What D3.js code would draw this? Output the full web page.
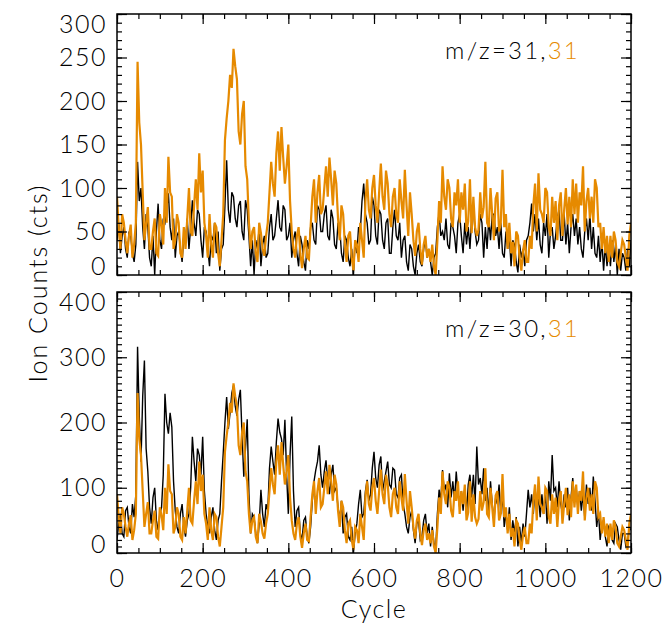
<!DOCTYPE html>
<html>
<head>
<meta charset="utf-8">
<script src="https://cdn.jsdelivr.net/npm/d3@7"></script>
<style>
    body { margin: 0; background: #fff; }
    svg { display: block; }
    text { font-family: Lato, 'DejaVu Sans', sans-serif; font-weight: 300; }
</style>
</head>
<body>
<svg id="chart" width="666" height="631"></svg>
<script>
// one sample every 4 cycles, 0..1200
var cycles = d3.range(0, 1201, 4);

// m/z 31 (orange, same trace in both panels)
var orange31 = [
    90, 55, 30, 70, 60, 40, 25, 45, 58, 20, 35, 60, 245, 175, 150, 95, 40, 60, 78, 30,
    30, 50, 65, 25, 22, 70, 58, 35, 100, 60, 136, 95, 90, 30, 40, 70, 60, 25, 20, 55,
    30, 65, 100, 50, 45, 80, 110, 75, 140, 95, 120, 60, 45, 20, 70, 35, 20, 60, 55, 25,
    10, 40, 70, 155, 180, 200, 230, 215, 260, 240, 225, 165, 150, 185, 200, 125, 110, 60, 30, 50,
    55, 25, 15, 60, 48, 30, 22, 45, 60, 95, 130, 105, 90, 140, 165, 120, 170, 135, 105, 125,
    150, 85, 50, 30, 20, 45, 55, 25, 8, 30, 45, 20, 18, 55, 90, 110, 60, 95, 115, 70,
    75, 100, 125, 90, 135, 110, 80, 120, 105, 65, 40, 80, 70, 35, 15, 45, 50, 20, 5, 40,
    35, 15, 60, 40, 20, 85, 110, 75, 65, 100, 115, 80, 60, 95, 128, 90, 75, 120, 105, 70,
    55, 90, 100, 70, 60, 110, 85, 65, 121, 80, 45, 95, 70, 40, 22, 50, 60, 30, 12, 35,
    45, 20, 30, 15, 35, 10, 0, 40, 85, 60, 125, 90, 75, 110, 100, 65, 55, 95, 80, 110,
    60, 95, 75, 105, 50, 62, 110, 48, 90, 55, 45, 52, 95, 65, 78, 130, 60, 55, 100, 70,
    40, 88, 95, 50, 60, 121, 55, 70, 30, 60, 25, 38, 10, 50, 45, 20, 5, 28, 40, 15,
    15, 45, 30, 80, 105, 50, 117, 75, 70, 60, 100, 95, 55, 45, 90, 60, 85, 40, 80, 95,
    45, 75, 100, 58, 90, 55, 110, 70, 105, 60, 95, 80, 125, 50, 85, 100, 65, 90, 60, 110,
    100, 55, 60, 30, 55, 25, 45, 15, 45, 20, 50, 40, 15, 10, 25, 40, 35, 20, 5, 45,
    60
];

// m/z 31 (black, top panel)
var black31 = [
    40, 60, 25, 45, 55, 30, 20, 50, 45, 25, 15, 35, 130, 85, 100, 55, 30, 70, 55, 20,
    10, 45, 0, 50, 82, 40, 30, 65, 60, 75, 94, 55, 40, 65, 20, 45, 50, 30, 15, 45,
    40, 65, 30, 55, 86, 60, 45, 75, 70, 40, 20, 55, 50, 30, 10, 45, 40, 60, 25, 50,
    5, 30, 35, 80, 132, 75, 60, 95, 90, 65, 55, 80, 85, 50, 40, 86, 75, 45, 10, 40,
    0, 40, 30, 55, 10, 35, 45, 20, 25, 55, 70, 40, 45, 65, 86, 55, 50, 80, 75, 40,
    45, 60, 20, 40, 50, 25, 10, 45, 35, 15, 5, 40, 30, 55, 60, 40, 35, 80, 75, 50,
    50, 70, 80, 45, 40, 75, 65, 35, 30, 60, 55, 25, 15, 45, 40, 20, 10, 30, 0, 40,
    25, 55, 50, 85, 105, 70, 60, 35, 40, 90, 80, 45, 35, 75, 70, 40, 30, 60, 65, 25,
    25, 55, 75, 45, 40, 60, 20, 40, 45, 15, 5, 35, 30, 10, 0, 25, 35, 15, 10, 30,
    40, 20, 30, 15, 0, 20, 25, 55, 71, 45, 50, 40, 65, 35, 30, 60, 55, 45, 25, 60,
    70, 45, 25, 60, 35, 55, 30, 65, 79, 50, 35, 40, 70, 60, 20, 55, 30, 65, 40, 70,
    70, 45, 55, 30, 60, 25, 20, 50, 30, 45, 10, 40, 35, 15, 3, 35, 20, 30, 10, 40,
    45, 60, 82, 50, 70, 40, 65, 35, 25, 60, 45, 70, 20, 50, 55, 30, 45, 65, 75, 40,
    40, 70, 35, 60, 25, 55, 70, 45, 65, 35, 55, 30, 20, 50, 65, 40, 70, 30, 55, 25,
    20, 45, 15, 40, 5, 35, 10, 30, 10, 40, 15, 35, 0, 30, 5, 25, 20, 5, 30, 10,
    40
];

// m/z 30 (black, bottom panel)
var black30 = [
    20, 45, 60, 30, 25, 65, 70, 40, 30, 75, 55, 90, 316, 210, 140, 240, 295, 160, 125, 70,
    45, 85, 100, 50, 35, 60, 70, 120, 244, 200, 183, 215, 193, 110, 65, 40, 30, 60, 75, 40,
    25, 50, 60, 100, 178, 140, 110, 160, 150, 120, 178, 95, 60, 40, 30, 55, 70, 35, 20, 50,
    60, 110, 153, 200, 239, 190, 215, 245, 257, 225, 210, 235, 250, 180, 117, 160, 205, 90, 30, 60,
    55, 30, 15, 45, 97, 60, 40, 75, 65, 130, 163, 140, 120, 170, 206, 185, 175, 150, 204, 120,
    60, 150, 209, 95, 40, 65, 70, 30, 20, 50, 55, 25, 15, 40, 80, 110, 127, 140, 165, 120,
    100, 125, 142, 110, 90, 120, 135, 95, 100, 70, 50, 80, 30, 55, 60, 25, 20, 40, 0, 30,
    45, 75, 97, 55, 60, 95, 112, 80, 90, 130, 155, 115, 100, 135, 148, 95, 110, 125, 140, 105,
    100, 130, 127, 90, 85, 115, 120, 75, 60, 40, 30, 55, 65, 35, 15, 45, 50, 20, 25, 50,
    60, 30, 45, 10, 40, 15, 5, 60, 97, 80, 127, 95, 105, 70, 122, 85, 110, 80, 125, 90,
    70, 95, 65, 100, 60, 105, 120, 85, 120, 75, 163, 105, 115, 90, 130, 80, 100, 60, 110, 75,
    50, 85, 75, 105, 60, 90, 40, 60, 35, 70, 20, 50, 30, 55, 10, 40, 15, 45, 25, 60,
    97, 70, 90, 60, 100, 65, 85, 55, 90, 60, 95, 45, 110, 80, 150, 95, 100, 70, 110, 75,
    60, 90, 70, 100, 50, 85, 115, 80, 100, 70, 95, 65, 90, 55, 105, 75, 100, 65, 117, 80,
    40, 65, 20, 45, 50, 25, 10, 40, 35, 20, 15, 45, 40, 20, 5, 30, 30, 10, 15, 40,
    35
];

var xTicks = [0, 200, 400, 600, 800, 1000, 1200];
var topTicks = [0, 50, 100, 150, 200, 250, 300];
var bottomTicks = [0, 100, 200, 300, 400];

var ORANGE = '#e68a00';
var FONT = "Lato, 'DejaVu Sans', sans-serif";
var svg = d3.select('#chart');

var x = d3.scaleLinear().domain([0, 1200]).range([117, 631]);
var xMinor = d3.range(0, 1201, 50);

var panels = [
    { top: 14, bottom: 275, max: 300, ticks: topTicks, black: black31, name: '31', labels: false },
    { top: 292, bottom: 553, max: 400, ticks: bottomTicks, black: black30, name: '30', labels: true }
];

panels.forEach(function (p, i) {
    draw_panel(p, i);
});

function draw_panel(p, i) {
    var y = d3.scaleLinear().domain([0, p.max]).range([p.bottom, p.top]);
    var g = svg.append('g');

    g.append('clipPath').attr('id', 'clip' + i)
        .append('rect')
        .attr('x', x(0)).attr('y', p.top)
        .attr('width', x(1200) - x(0)).attr('height', p.bottom - p.top);

    var line = d3.line()
        .x(function (d) { return x(d[0]); })
        .y(function (d) { return y(d[1]); });

    var lines = g.append('g').attr('clip-path', 'url(#clip' + i + ')');
    lines.append('path')
        .attr('d', line(d3.zip(cycles, p.black)))
        .attr('fill', 'none').attr('stroke', '#000').attr('stroke-width', 1.4);
    lines.append('path')
        .attr('d', line(d3.zip(cycles, orange31)))
        .attr('fill', 'none').attr('stroke', ORANGE).attr('stroke-width', 2.2);

    var yMinor = d3.range(0, p.max + 1, 10);

    // left: major ticks with labels, then minor ticks
    var left = g.append('g').attr('transform', 'translate(' + x(0) + ',0)')
        .call(d3.axisLeft(y).tickValues(p.ticks).tickSize(-10).tickPadding(10));
    // keep end labels inside the frame
    left.selectAll('.tick text')
        .attr('y', function (d) {
            var ty = y(d);
            var c = Math.max(p.top + 10, Math.min(p.bottom - 9, ty));
            return c - ty;
        });
    g.append('g').attr('transform', 'translate(' + x(0) + ',0)')
        .call(d3.axisLeft(y).tickValues(yMinor).tickSize(-5).tickFormat(''));

    // right side mirrors the left ticks
    g.append('g').attr('transform', 'translate(' + x(1200) + ',0)')
        .call(d3.axisRight(y).tickValues(p.ticks).tickSize(-10).tickFormat(''));
    g.append('g').attr('transform', 'translate(' + x(1200) + ',0)')
        .call(d3.axisRight(y).tickValues(yMinor).tickSize(-5).tickFormat(''));

    // top and bottom cycle ticks
    g.append('g').attr('transform', 'translate(0,' + p.top + ')')
        .call(d3.axisTop(x).tickValues(xTicks).tickSize(-10).tickFormat(''));
    g.append('g').attr('transform', 'translate(0,' + p.top + ')')
        .call(d3.axisTop(x).tickValues(xMinor).tickSize(-5).tickFormat(''));
    var bottom = g.append('g').attr('transform', 'translate(0,' + p.bottom + ')')
        .call(d3.axisBottom(x).tickValues(xTicks).tickSize(-10).tickPadding(16)
            .tickFormat(d3.format('d')));
    if (!p.labels) { bottom.selectAll('.tick text').remove(); }
    g.append('g').attr('transform', 'translate(0,' + p.bottom + ')')
        .call(d3.axisBottom(x).tickValues(xMinor).tickSize(-5).tickFormat(''));

    g.selectAll('.domain').remove();
    g.selectAll('.tick line').attr('stroke', '#000').attr('stroke-width', 1.2);
    g.selectAll('.tick text')
        .attr('fill', '#000')
        .attr('font-family', FONT)
        .attr('font-size', 25)
        .attr('letter-spacing', 1.5);

    // frame
    g.append('rect')
        .attr('x', x(0)).attr('y', p.top)
        .attr('width', x(1200) - x(0)).attr('height', p.bottom - p.top)
        .attr('fill', 'none').attr('stroke', '#000').attr('stroke-width', 1.5);

    // m/z label
    var tag = g.append('text')
        .attr('x', 580).attr('y', p.top + 45)
        .attr('text-anchor', 'end')
        .attr('font-size', 24)
        .attr('letter-spacing', 2.2);
    tag.append('tspan').attr('fill', '#000').text('m/z=' + p.name + ',');
    tag.append('tspan').attr('fill', ORANGE).text('31');
}

svg.append('text')
    .attr('x', 374).attr('y', 618)
    .attr('text-anchor', 'middle')
    .attr('font-size', 25)
    .attr('letter-spacing', 1.5)
    .text('Cycle');

svg.append('text')
    .attr('transform', 'translate(47,283) rotate(-90)')
    .attr('text-anchor', 'middle')
    .attr('font-size', 25)
    .attr('letter-spacing', 2)
    .text('Ion Counts (cts)');
</script>
</body>
</html>
